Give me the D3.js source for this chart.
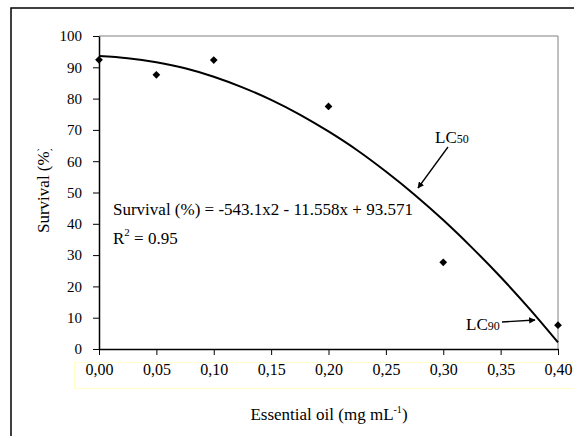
<!DOCTYPE html>
<html>
<head>
<meta charset="utf-8">
<script src="https://cdn.jsdelivr.net/npm/d3@7"></script>
<style>
  body { margin: 0; background: #fff; }
  svg text { font-family: "Liberation Serif", "Times New Roman", Times, "DejaVu Serif", serif; fill: #000; }
</style>
</head>
<body>
<div id="chart"></div>
<script>
// observed points
var doses = [0, 0.05, 0.1, 0.2, 0.3, 0.4]
var survival = [92.4, 87.6, 92.3, 77.5, 27.7, 7.6]

// trendline
var trendX = [0, 0.025, 0.05, 0.075, 0.1, 0.125, 0.15, 0.175, 0.2, 0.225, 0.25, 0.275, 0.3, 0.325, 0.35, 0.375, 0.4]
var trendY = [93.6, 92.9, 91.6, 89.7, 87.0, 83.6, 79.6, 74.9, 69.5, 63.5, 56.7, 49.3, 41.2, 32.4, 23.0, 12.9, 2.1]

var xTicks = [0, 0.05, 0.1, 0.15, 0.2, 0.25, 0.3, 0.35, 0.4]
var xTickLabels = ["0,00", "0,05", "0,10", "0,15", "0,20", "0,25", "0,30", "0,35", "0,40"]
var yTicks = [0, 10, 20, 30, 40, 50, 60, 70, 80, 90, 100]

var FONT = "'Liberation Serif', 'Times New Roman', Times, 'DejaVu Serif', serif"
var W = 574, H = 436

var svg = d3.select("#chart").append("svg")
    .attr("width", W)
    .attr("height", H)

var x = d3.scaleLinear().domain([0, 0.4]).range([99, 558])
var y = d3.scaleLinear().domain([0, 100]).range([349, 36])

// outer chart border
svg.append("rect")
    .attr("x", 11).attr("y", 8)
    .attr("width", W).attr("height", H)
    .attr("fill", "none")
    .attr("stroke", "#000")
    .attr("stroke-width", 1.5)

// plot area border (top and right, gray)
svg.append("path")
    .attr("d", "M" + x(0) + "," + y(100) + "H" + x(0.4) + "V" + y(0))
    .attr("fill", "none")
    .attr("stroke", "#808080")
    .attr("stroke-width", 1)

// yellow box around x tick labels
svg.append("rect")
    .attr("x", 74.5).attr("y", 362.5)
    .attr("width", 520).attr("height", 26)
    .attr("fill", "none")
    .attr("stroke", "#ffffc8")
    .attr("stroke-width", 1)

// y axis
var yAxis = svg.append("g")
    .attr("transform", "translate(" + x(0) + ",0)")
    .call(d3.axisLeft(y).tickValues(yTicks).tickSize(6).tickSizeOuter(0).tickPadding(11))
yAxis.attr("font-family", FONT).attr("font-size", 15)
yAxis.select(".domain").attr("stroke-width", 1.5)

// x axis
var xAxis = svg.append("g")
    .attr("transform", "translate(0," + y(0) + ")")
    .call(d3.axisBottom(x).tickValues(xTicks).tickSize(6).tickSizeOuter(0).tickPadding(9)
        .tickFormat(function(d, i) { return xTickLabels[i] }))
xAxis.attr("font-family", FONT).attr("font-size", 16)
xAxis.select(".domain").attr("stroke-width", 1.5)

// axis titles (y title is cut off at the top, like the original)
svg.append("defs").append("clipPath")
    .attr("id", "ylabclip")
    .append("rect")
        .attr("x", 0).attr("y", 149)
        .attr("width", 90).attr("height", 200)

svg.append("g")
    .attr("clip-path", "url(#ylabclip)")
    .append("text")
        .attr("transform", "translate(49,233) rotate(-90)")
        .attr("text-anchor", "start")
        .style("font-size", "17px")
        .text("Survival (%)")

var xl = svg.append("text")
    .attr("x", 329).attr("y", 420)
    .attr("text-anchor", "middle")
    .style("font-size", "17px")
xl.append("tspan").text("Essential oil (mg mL")
xl.append("tspan").attr("dy", -7).style("font-size", "10px").text("-1")
xl.append("tspan").attr("dy", 7).text(")")

// trendline
var trend = trendX.map(function(d, i) { return {x: d, y: trendY[i]} })
svg.append("path")
    .datum(trend)
    .attr("fill", "none")
    .attr("stroke", "#000")
    .attr("stroke-width", 2)
    .attr("d", d3.line()
        .x(function(d) { return x(d.x) })
        .y(function(d) { return y(d.y) })
        .curve(d3.curveMonotoneX))

// points
svg.append("g")
    .selectAll("path")
    .data(doses)
    .enter()
    .append("path")
        .attr("d", d3.symbol(d3.symbolSquare, 30))
        .attr("transform", function(d, i) { return "translate(" + x(d) + "," + y(survival[i]) + ") rotate(45)" })
        .attr("fill", "#000")

// equation
svg.append("text")
    .attr("x", 113).attr("y", 215)
    .style("font-size", "17px")
    .text("Survival (%) = -543.1x2 - 11.558x + 93.571")

var r2 = svg.append("text")
    .attr("x", 113).attr("y", 244)
    .style("font-size", "17px")
r2.append("tspan").text("R")
r2.append("tspan").attr("dy", -8).style("font-size", "11px").text("2")
r2.append("tspan").attr("dy", 8).text(" = 0.95")

// LC labels with arrows
svg.append("defs").append("marker")
    .attr("id", "arrow")
    .attr("viewBox", "0 0 10 10")
    .attr("refX", 9).attr("refY", 5)
    .attr("markerWidth", 5).attr("markerHeight", 5)
    .attr("orient", "auto")
    .append("path")
        .attr("d", "M0,0L10,5L0,10z")
        .attr("fill", "#000")

function lcLabel(tx, ty, sub, x1, y1, x2, y2) {
    var t = svg.append("text").attr("x", tx).attr("y", ty).style("font-size", "17px")
    t.append("tspan").text("LC")
    t.append("tspan").style("font-size", "12px").text(sub)
    svg.append("line")
        .attr("x1", x1).attr("y1", y1)
        .attr("x2", x2).attr("y2", y2)
        .attr("stroke", "#000")
        .attr("stroke-width", 1.3)
        .attr("marker-end", "url(#arrow)")
}
lcLabel(435, 143, "50", 448, 147, 418, 188)
lcLabel(466, 330, "90", 502, 322, 535, 320)
</script>
</body>
</html>
